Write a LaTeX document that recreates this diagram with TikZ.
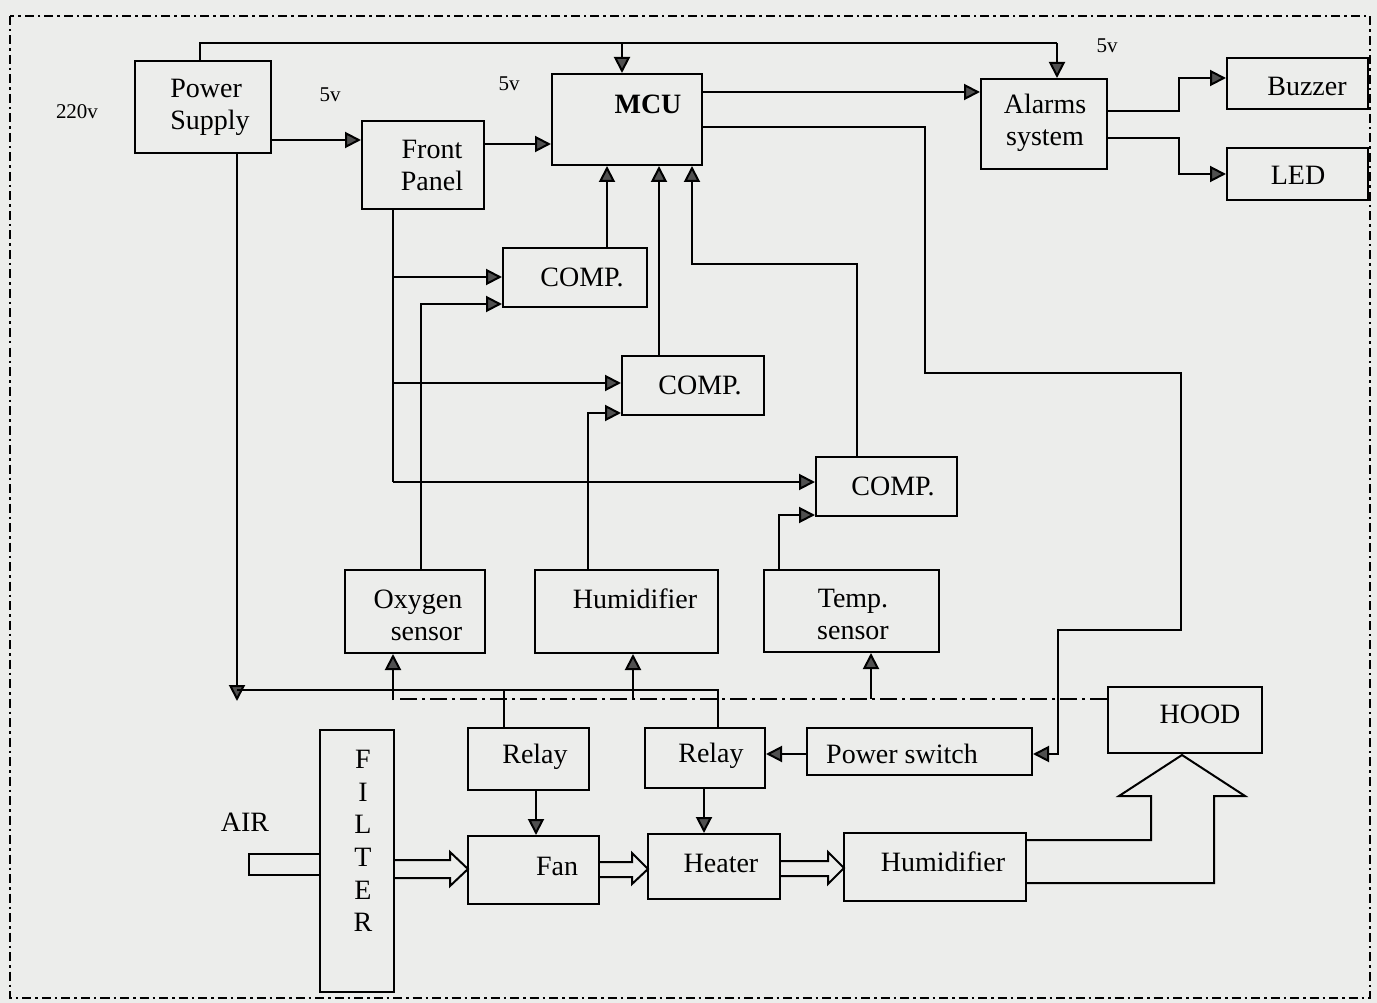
\documentclass[tikz,border=0pt]{standalone}
\usepackage{fontspec}
\setmainfont{Liberation Serif}
\usetikzlibrary{arrows.meta,calc}
\definecolor{bgc}{RGB}{236,237,235}
\definecolor{ahc}{RGB}{80,80,80}
\begin{document}
\begin{tikzpicture}[x=1pt,y=-1pt,
  box/.style={draw, line width=2pt, inner sep=0pt},
  txt/.style={inner sep=0pt, align=center, font=\fontsize{28}{32}\selectfont},
  sml/.style={inner sep=0pt, font=\fontsize{21}{24}\selectfont},
  ln/.style={line width=2pt},
  arr/.style={ln, -{Triangle[length=16pt,width=16pt,fill=ahc]}},
  bord/.style={line width=2.4pt, dash pattern=on 9pt off 4pt on 2.5pt off 4pt},
  ddl/.style={line width=2pt, dash pattern=on 17pt off 5pt on 3pt off 5pt},
  blk/.style={line width=2pt, line join=miter}]
\fill[bgc] (0,0) rectangle (1377,1003);
\useasboundingbox (0,0) rectangle (1377,1003);
\draw[bord] (10,16) rectangle (1370,998);

% boxes
\node[box, minimum width=136pt, minimum height=92pt] (ps) at (203,107) {};
\node[box, minimum width=122pt, minimum height=88pt] (fp) at (423,165) {};
\node[box, minimum width=150pt, minimum height=91pt] (mcu) at (627,119.5) {};
\node[box, minimum width=126pt, minimum height=90pt] (al) at (1044,124) {};
\node[box, minimum width=141pt, minimum height=51pt] (bz) at (1297.5,83.5) {};
\node[box, minimum width=141pt, minimum height=52pt] (led) at (1297.5,174) {};
\node[box, minimum width=144pt, minimum height=59pt] (c1) at (575,277.5) {};
\node[box, minimum width=142pt, minimum height=59pt] (c2) at (693,385.5) {};
\node[box, minimum width=141pt, minimum height=59pt] (c3) at (886.5,486.5) {};
\node[box, minimum width=140pt, minimum height=83pt] (ox) at (415,611.5) {};
\node[box, minimum width=183pt, minimum height=83pt] (hu1) at (626.5,611.5) {};
\node[box, minimum width=175pt, minimum height=82pt] (tp) at (851.5,611) {};
\node[box, minimum width=74pt, minimum height=262pt] (fil) at (357,861) {};
\node[box, minimum width=121pt, minimum height=62pt] (r1) at (528.5,759) {};
\node[box, minimum width=120pt, minimum height=60pt] (r2) at (705,758) {};
\node[box, minimum width=225pt, minimum height=47pt] (psw) at (919.5,751.5) {};
\node[box, minimum width=154pt, minimum height=66pt] (hood) at (1185,720) {};
\node[box, minimum width=131pt, minimum height=68pt] (fan) at (533.5,870) {};
\node[box, minimum width=132pt, minimum height=65pt] (ht) at (714,866.5) {};
\node[box, minimum width=182pt, minimum height=68pt] (hu2) at (935,867) {};

% texts
\node[txt, align=left] (pst) at (210,107) {Power\\Supply};
\node[txt] (fpt) at (432,165) {Front\\Panel};
\node[txt] (mcut) at (648,104) {\bfseries MCU};
\node[txt] (alt) at (1045,123) {Alarms\\system};
\node[txt] (bzt) at (1307,86) {Buzzer};
\node[txt] (ledt) at (1298,175) {LED};
\node[txt] (c1t) at (582,277) {COMP.};
\node[txt] (c2t) at (700,385) {COMP.};
\node[txt] (c3t) at (893,486) {COMP.};
\node[txt, align=right] (oxt) at (418,615) {Oxygen\\sensor};
\node[txt] (hu1t) at (635,599) {Humidifier};
\node[txt] (tpt) at (853,614) {Temp.\\sensor};
\node[txt, font=\fontsize{28}{32.6}\selectfont] (filt) at (363,841) {F\\I\\L\\T\\E\\R};
\node[txt] (r1t) at (535,757) {Relay};
\node[txt] (r2t) at (711,756) {Relay};
\node[txt] (pswt) at (902,754) {Power switch};
\node[txt] (hoodt) at (1200,714) {HOOD};
\node[txt] (fant) at (557,866) {Fan};
\node[txt] (htt) at (721,863) {Heater};
\node[txt] (hu2t) at (943,862) {Humidifier};
\node[txt] (air) at (245,822) {AIR};
\node[sml] (v220) at (77,112) {220v};
\node[sml] (v5a) at (330,95) {5v};
\node[sml] (v5b) at (509,84) {5v};
\node[sml] (v5c) at (1107,46) {5v};

% power bus on top
\coordinate (b1) at (200,43);
\coordinate (b2) at (622,43);
\coordinate (b3) at (1057,43);
\draw[ln] (b1 |- ps.north) -- (b1) -- (b3);
\draw[arr] (b3) -- (b3 |- al.north);
\draw[arr] (b2) -- (b2 |- mcu.north);

% PS -> FP -> MCU -> Alarms
\coordinate (y140) at (0,140);
\draw[arr] (ps.east |- y140) -- (fp.west |- y140);
\coordinate (y144) at (0,144);
\draw[arr] (fp.east |- y144) -- (mcu.west |- y144);
\coordinate (y92) at (0,92);
\draw[arr] (mcu.east |- y92) -- (al.west |- y92);

% MCU -> Power switch
\coordinate (m1) at (925,127);
\coordinate (m2) at (925,373);
\coordinate (m3) at (1181,373);
\coordinate (m4) at (1181,630);
\coordinate (m5) at (1058,630);
\coordinate (m6) at (1058,754);
\draw[arr] (mcu.east |- m1) -- (m1) -- (m2) -- (m3) -- (m4) -- (m5) -- (m6) -- (psw.east |- m6);

% Alarms -> Buzzer / LED
\coordinate (a1) at (1179,111);
\coordinate (a3) at (1179,78);
\draw[arr] (al.east |- a1) -- (a1) -- (a3) -- (bz.west |- a3);
\coordinate (a2) at (1179,138);
\coordinate (a4) at (1179,174);
\draw[arr] (al.east |- a2) -- (a2) -- (a4) -- (led.west |- a4);

% PS bottom -> relays
\coordinate (p0) at (237,701);
\coordinate (p1) at (237,690);
\coordinate (p2) at (718,690);
\coordinate (p3) at (504,690);
\draw[arr] (p0 |- ps.south) -- (p0);
\draw[ln] (p1) -- (p2) -- (p2 |- r2.north);
\draw[ln] (p3) -- (p3 |- r1.north);

% FP bottom -> comparators
\coordinate (f1) at (393,277);
\coordinate (f2) at (393,383);
\coordinate (f3) at (393,482);
\draw[ln] (f1 |- fp.south) -- (f3);
\draw[arr] (f1) -- (c1.west |- f1);
\draw[arr] (f2) -- (c2.west |- f2);
\draw[arr] (f3) -- (c3.west |- f3);

% sensors -> comparators
\coordinate (o1) at (421,304);
\draw[arr] (o1 |- ox.north) -- (o1) -- (c1.west |- o1);
\coordinate (h1) at (588,413);
\draw[arr] (h1 |- hu1.north) -- (h1) -- (c2.west |- h1);
\coordinate (t1) at (779,515);
\draw[arr] (t1 |- tp.north) -- (t1) -- (c3.west |- t1);

% comparators -> MCU
\coordinate (k1) at (607,0);
\draw[arr] (k1 |- c1.north) -- (k1 |- mcu.south);
\coordinate (k2) at (659,0);
\draw[arr] (k2 |- c2.north) -- (k2 |- mcu.south);
\coordinate (k3) at (857,264);
\coordinate (k4) at (692,264);
\draw[arr] (k3 |- c3.north) -- (k3) -- (k4) -- (k4 |- mcu.south);

% dash-dot line from hood and sensor arrows
\coordinate (d0) at (400,699);
\draw[ddl] (d0) -- (hood.west |- d0);
\coordinate (d1) at (393,700);
\draw[arr] (d1) -- (d1 |- ox.south);
\coordinate (d2) at (633,699);
\draw[arr] (d2) -- (d2 |- hu1.south);
\coordinate (d3) at (871,699);
\draw[arr] (d3) -- (d3 |- tp.south);

% relays -> fan / heater, power switch -> relay
\coordinate (e1) at (536,0);
\draw[arr] (e1 |- r1.south) -- (e1 |- fan.north);
\coordinate (e2) at (704,0);
\draw[arr] (e2 |- r2.south) -- (e2 |- ht.north);
\coordinate (y754) at (0,754);
\draw[arr] (psw.west |- y754) -- (r2.east |- y754);

% air-flow block arrows
\draw[blk] (320,854) -- (249,854) -- (249,875) -- (320,875);
\draw[blk] (394,860) -- (450,860) -- (450,852) -- (468,869) -- (450,886) -- (450,878) -- (394,878);
\draw[blk] (599,862) -- (632,862) -- (632,853) -- (648,869) -- (632,884) -- (632,877) -- (599,877);
\draw[blk] (780,861) -- (828,861) -- (828,852) -- (844,868) -- (828,884) -- (828,876) -- (780,876);
\draw[blk] (1026,840) -- (1151,840) -- (1151,796) -- (1119,796) -- (1182,755) -- (1245,796) -- (1214,796) -- (1214,883) -- (1026,883);
\end{tikzpicture}
\end{document}
